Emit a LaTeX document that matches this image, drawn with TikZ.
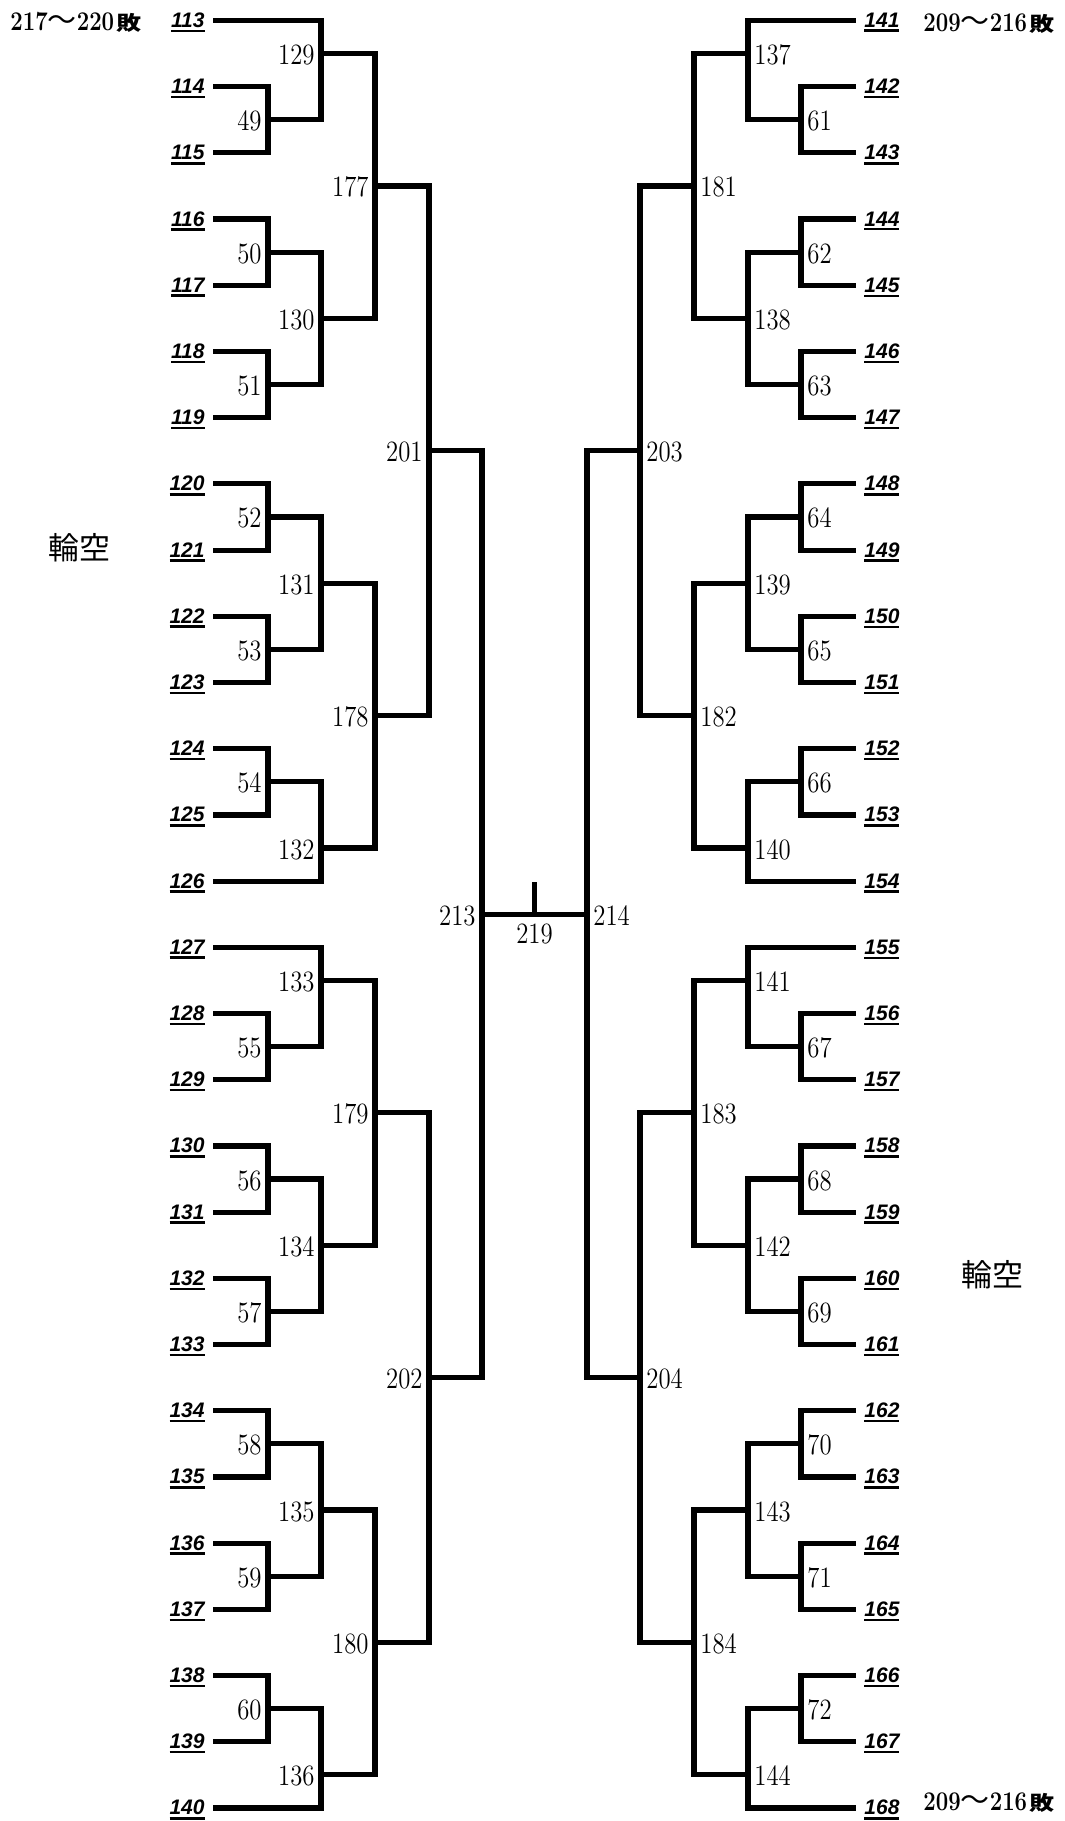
\documentclass[tikz,border=0pt]{standalone}
\usepackage{fontspec}
\usepackage{graphicx}
\newfontfamily\cjk{Noto Sans CJK JP}
\newfontfamily\leaffont{Liberation Sans}
\newcommand\mnumtext[1]{\scalebox{0.84}[1]{\fontsize{14.75}{15}\selectfont #1}}
\newcommand\leafuline[1]{\vtop{\hbox{#1}\kern1pt\hrule height 1.2pt}}
\newcommand\rankdig[1]{\scalebox{0.82}[1]{\fontsize{13.5}{14}\selectfont\bfseries #1}}
\newcommand\ranklab[2]{\rankdig{#1}{\cjk\fontsize{14.5}{14}\selectfont ～}\rankdig{#2}\kern1pt\scalebox{1}[0.8]{\cjk\bfseries\fontsize{12.5}{12}\selectfont 敗}}
\begin{document}
\begin{tikzpicture}[x=0.5pt,y=-33.1pt,
  br/.style={line width=2.6pt,line cap=rect},
  mnum/.style={inner sep=0pt,yshift=-5.5pt},
  mnumL/.style={mnum,anchor=base east,xshift=-3pt},
  mnumR/.style={mnum,anchor=base west,xshift=3pt},
  leaf/.style={inner sep=0pt,yshift=-3.5pt,font=\leaffont\bfseries\itshape\fontsize{10.5}{11}\selectfont},
  leafL/.style={leaf,anchor=base east},
  leafR/.style={leaf,anchor=base west},
  rank/.style={inner sep=0pt,anchor=base west},
  bye/.style={inner sep=0pt,font=\cjk\fontsize{15.5}{16}\selectfont}
]
\useasboundingbox (0,-0.30967) rectangle (1065,27.198);

% ---------- match coordinates: label/x/top/bottom/mid ----------
\foreach \n/\x/\t/\b/\m in {
  49/268/1/2/1.5, 50/268/3/4/3.5, 51/268/5/6/5.5, 52/268/7/8/7.5, 53/268/9/10/9.5, 54/268/11/12/11.5,
  55/268/15/16/15.5, 56/268/17/18/17.5, 57/268/19/20/19.5, 58/268/21/22/21.5, 59/268/23/24/23.5, 60/268/25/26/25.5,
  129/321/0/1.5/0.5, 130/321/3.5/5.5/4.5, 131/321/7.5/9.5/8.5, 132/321/11.5/13/12.5,
  133/321/14/15.5/14.5, 134/321/17.5/19.5/18.5, 135/321/21.5/23.5/22.5, 136/321/25.5/27/26.5,
  177/375/0.5/4.5/2.5, 178/375/8.5/12.5/10.5, 179/375/14.5/18.5/16.5, 180/375/22.5/26.5/24.5,
  201/429/2.5/10.5/6.5, 202/429/16.5/24.5/20.5,
  213/482/6.5/20.5/13.5,
  61/801/1/2/1.5, 62/801/3/4/3.5, 63/801/5/6/5.5, 64/801/7/8/7.5, 65/801/9/10/9.5, 66/801/11/12/11.5,
  67/801/15/16/15.5, 68/801/17/18/17.5, 69/801/19/20/19.5, 70/801/21/22/21.5, 71/801/23/24/23.5, 72/801/25/26/25.5,
  137/748/0/1.5/0.5, 138/748/3.5/5.5/4.5, 139/748/7.5/9.5/8.5, 140/748/11.5/13/12.5,
  141/748/14/15.5/14.5, 142/748/17.5/19.5/18.5, 143/748/21.5/23.5/22.5, 144/748/25.5/27/26.5,
  181/694/0.5/4.5/2.5, 182/694/8.5/12.5/10.5, 183/694/14.5/18.5/16.5, 184/694/22.5/26.5/24.5,
  203/640/2.5/10.5/6.5, 204/640/16.5/24.5/20.5,
  214/587/6.5/20.5/13.5}{
  \coordinate (m\n) at (\x,\m);
  \coordinate (t\n) at (\x,\t);
  \coordinate (b\n) at (\x,\b);
}

% ---------- verticals ----------
\foreach \n in {49,50,51,52,53,54,55,56,57,58,59,60,129,130,131,132,133,134,135,136,177,178,179,180,201,202,213,
  61,62,63,64,65,66,67,68,69,70,71,72,137,138,139,140,141,142,143,144,181,182,183,184,203,204,214}{
  \draw[br] (t\n) -- (b\n);
}

% ---------- match labels ----------
\foreach \n in {49,50,51,52,53,54,55,56,57,58,59,60,129,130,131,132,133,134,135,136,177,178,179,180,201,202,213}{
  \node[mnumL] (l\n) at (m\n) {\mnumtext{\n}};
}
\foreach \n in {61,62,63,64,65,66,67,68,69,70,71,72,137,138,139,140,141,142,143,144,181,182,183,184,203,204,214}{
  \node[mnumR] (l\n) at (m\n) {\mnumtext{\n}};
}

% ---------- match to parent ----------
\foreach \c/\p in {49/129, 50/130, 51/130, 52/131, 53/131, 54/132, 55/133, 56/134, 57/134, 58/135, 59/135, 60/136,
  129/177, 130/177, 131/178, 132/178, 133/179, 134/179, 135/180, 136/180,
  177/201, 178/201, 179/202, 180/202, 201/213, 202/213,
  61/137, 62/138, 63/138, 64/139, 65/139, 66/140, 67/141, 68/142, 69/142, 70/143, 71/143, 72/144,
  137/181, 138/181, 139/182, 140/182, 141/183, 142/183, 143/184, 144/184,
  181/203, 182/203, 183/204, 184/204, 203/214, 204/214}{
  \draw[br] (m\c) -- (m\c -| m\p);
}

% ---------- final ----------
\draw[br] (m213) -- (m214);
\coordinate (c219t) at (534.5,13.05);
\coordinate (c219) at (534.5,13.5);
\draw[br] (c219t) -- (c219);
\node[inner sep=0pt,anchor=base,yshift=-14.5pt] (l219) at (c219) {\mnumtext{219}};

% ---------- left players ----------
\foreach \n/\i/\p in {113/0/m129, 114/1/m49, 115/2/m49, 116/3/m50, 117/4/m50, 118/5/m51, 119/6/m51,
  120/7/m52, 121/8/m52, 122/9/m53, 123/10/m53, 124/11/m54, 125/12/m54, 126/13/m132,
  127/14/m133, 128/15/m55, 129/16/m55, 130/17/m56, 131/18/m56, 132/19/m57, 133/20/m57,
  134/21/m58, 135/22/m58, 136/23/m59, 137/24/m59, 138/25/m60, 139/26/m60, 140/27/m136}{
  \coordinate (e\n) at (215.5,\i);
  \node[leafL] (p\n) at (205,\i) {\leafuline{\n}};
  \draw[br] (e\n) -- (e\n -| \p);
}

% ---------- right players ----------
\foreach \n/\i/\p in {141/0/m137, 142/1/m61, 143/2/m61, 144/3/m62, 145/4/m62, 146/5/m63, 147/6/m63,
  148/7/m64, 149/8/m64, 150/9/m65, 151/10/m65, 152/11/m66, 153/12/m66, 154/13/m140,
  155/14/m141, 156/15/m67, 157/16/m67, 158/17/m68, 159/18/m68, 160/19/m69, 161/20/m69,
  162/21/m70, 163/22/m70, 164/23/m71, 165/24/m71, 166/25/m72, 167/26/m72, 168/27/m144}{
  \coordinate (f\n) at (853.5,\i);
  \node[leafR] (q\n) at (864,\i) {\leafuline{\n}};
  \draw[br] (f\n) -- (f\n -| \p);
}

% ---------- side notes ----------
\node[rank,yshift=-5.25pt] (rk1) at (10,0) {\ranklab{217}{220}};
\node[rank,yshift=-5.5pt] (rk2) at (923,0) {\ranklab{209}{216}};
\node[rank,yshift=-1.5pt] (rk3) at (923,27) {\ranklab{209}{216}};
\node[bye] (bye1) at (79,7.97) {輪空};
\node[bye] (bye2) at (992,18.95) {輪空};
\end{tikzpicture}
\end{document}
